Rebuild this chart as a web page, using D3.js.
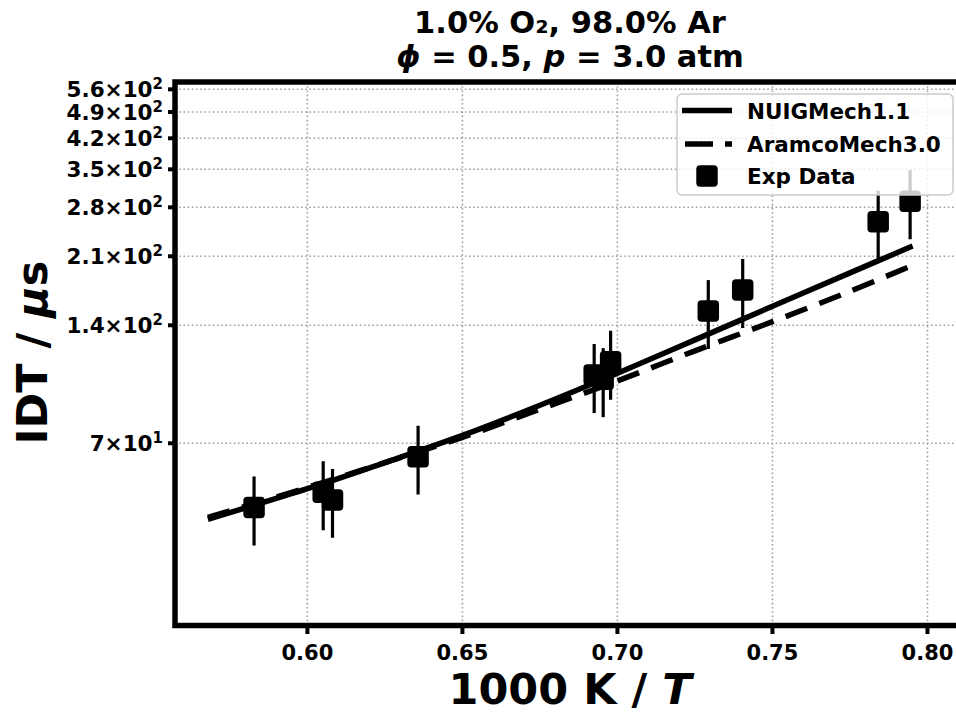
<!DOCTYPE html>
<html>
<head>
<meta charset="utf-8">
<script src="https://cdn.jsdelivr.net/npm/d3@7"></script>
<style>
  html, body { margin: 0; padding: 0; background: #fff; }
  svg { display: block; font-family: "DejaVu Sans", sans-serif; font-weight: bold; }
</style>
</head>
<body>
<div id="chart"></div>
<script>
// ---- data ----
const xTicks = [0.60, 0.65, 0.70, 0.75, 0.80];
const xTickLabels = ["0.60", "0.65", "0.70", "0.75", "0.80"];
const yTicks = [70, 140, 210, 280, 350, 420, 490, 560];
const yTickMant = ["7", "1.4", "2.1", "2.8", "3.5", "4.2", "4.9", "5.6"];
const yTickExp = ["1", "2", "2", "2", "2", "2", "2", "2"];

const nuigX = [0.5679, 0.60, 0.625, 0.65, 0.675, 0.70, 0.725, 0.75, 0.775, 0.7952];
const nuigY = [44.8, 53.6, 62.5, 73.3, 87.5, 105.6, 128.5, 156.5, 190.5, 223.0];
const aramX = [0.5679, 0.60, 0.625, 0.65, 0.675, 0.70, 0.725, 0.75, 0.775, 0.7944];
const aramY = [45.3, 54.0, 62.5, 72.5, 85.5, 101.0, 120.5, 143.0, 171.0, 198.0];

const expX = [0.5828, 0.6051, 0.6081, 0.6357, 0.6925, 0.6954, 0.6978, 0.7293, 0.7404, 0.7841, 0.7944];
const expY = [48.0, 52.5, 50.2, 64.7, 104.5, 102.0, 113.0, 152.2, 172.3, 257.3, 290.0];
const expErr = [9.6, 10.5, 10.0, 12.9, 20.9, 20.4, 22.6, 30.4, 34.5, 51.5, 58.0];

const seriesNames = ["NUIGMech1.1", "AramcoMech3.0", "Exp Data"];

// ---- layout ----
const W = 956, H = 714;
const L = 175, R = 965, T = 82, B = 625.5;

const svg = d3.select("#chart").append("svg").attr("width", W).attr("height", H);

const x = d3.scaleLinear().domain([0.5573, 0.8121]).range([L, R]);
const y = d3.scaleLog().domain([24.0, 584.6]).range([B, T]);

// grid
const grid = svg.append("g").attr("stroke", "#a0a0a0").attr("stroke-width", 1.6)
  .attr("stroke-dasharray", "1.6,2.6");
grid.selectAll("line.gx").data(xTicks).join("line")
  .attr("x1", d => x(d)).attr("x2", d => x(d)).attr("y1", T).attr("y2", B);
grid.selectAll("line.gy").data(yTicks).join("line")
  .attr("y1", d => y(d)).attr("y2", d => y(d)).attr("x1", L).attr("x2", R);

// clip
svg.append("clipPath").attr("id", "clip").append("rect")
  .attr("x", L).attr("y", T).attr("width", R - L).attr("height", B - T);
const plot = svg.append("g").attr("clip-path", "url(#clip)");

const lineGen = d3.line().x(d => x(d[0])).y(d => y(d[1])).curve(d3.curveCatmullRom.alpha(0.5));

plot.append("path").datum(nuigX.map((v, i) => [v, nuigY[i]]))
  .attr("d", lineGen).attr("fill", "none").attr("stroke", "#000").attr("stroke-width", 5.5);
plot.append("path").datum(aramX.map((v, i) => [v, aramY[i]]))
  .attr("d", lineGen).attr("fill", "none").attr("stroke", "#000").attr("stroke-width", 5.5)
  .attr("stroke-dasharray", "23,13");

// error bars
const exp = expX.map((v, i) => ({ x: v, y: expY[i], e: expErr[i] }));
plot.selectAll("line.err").data(exp).join("line")
  .attr("x1", d => x(d.x)).attr("x2", d => x(d.x))
  .attr("y1", d => y(d.y - d.e)).attr("y2", d => y(d.y + d.e))
  .attr("stroke", "#000").attr("stroke-width", 3.2);
// markers
const ms = 21.5;
plot.selectAll("rect.mk").data(exp).join("rect")
  .attr("x", d => x(d.x) - ms / 2).attr("y", d => y(d.y) - ms / 2)
  .attr("width", ms).attr("height", ms).attr("rx", 4).attr("fill", "#000");

// spines
svg.append("rect").attr("x", L).attr("y", T).attr("width", R - L).attr("height", B - T)
  .attr("fill", "none").attr("stroke", "#000").attr("stroke-width", 5.5);

// x ticks
const xt = svg.append("g");
xt.selectAll("line").data(xTicks).join("line")
  .attr("x1", d => x(d)).attr("x2", d => x(d)).attr("y1", B).attr("y2", B + 8.5)
  .attr("stroke", "#000").attr("stroke-width", 4);
xt.selectAll("text").data(xTicks).join("text")
  .attr("x", d => x(d)).attr("y", 660).attr("text-anchor", "middle")
  .attr("font-size", 21).text((d, i) => xTickLabels[i]);

// y ticks
const yt = svg.append("g");
yt.selectAll("line").data(yTicks).join("line")
  .attr("x1", L).attr("x2", L - 7).attr("y1", d => y(d)).attr("y2", d => y(d))
  .attr("stroke", "#000").attr("stroke-width", 4);
const ytxt = yt.selectAll("text").data(yTicks).join("text")
  .attr("x", 163).attr("y", d => y(d) + 8).attr("text-anchor", "end").attr("font-size", 21.5);
ytxt.append("tspan").text((d, i) => yTickMant[i] + "×10");
ytxt.append("tspan").attr("font-size", 15).attr("dy", -8.5).text((d, i) => yTickExp[i]);

// axis labels
const xl = svg.append("text").attr("x", 570).attr("y", 704).attr("text-anchor", "middle")
  .attr("font-size", 43);
xl.append("tspan").text("1000 K / ");
xl.append("tspan").attr("font-style", "italic").text("T");

const yl = svg.append("text").attr("transform", "translate(46.5,352.5) rotate(-90)")
  .attr("text-anchor", "middle").attr("font-size", 43);
yl.append("tspan").text("IDT / ");
yl.append("tspan").attr("font-style", "italic").text("μ");
yl.append("tspan").text("s");

// title
svg.append("text").attr("x", 570).attr("y", 33).attr("text-anchor", "middle")
  .attr("font-size", 30.5).text("1.0% O₂, 98.0% Ar");
const t2 = svg.append("text").attr("x", 570).attr("y", 67).attr("text-anchor", "middle")
  .attr("font-size", 30.5);
t2.append("tspan").attr("font-style", "italic").text("ϕ");
t2.append("tspan").text(" = 0.5, ");
t2.append("tspan").attr("font-style", "italic").text("p");
t2.append("tspan").text(" = 3.0 atm");

// legend
const lg = svg.append("g");
lg.append("rect").attr("x", 677).attr("y", 94).attr("width", 276).attr("height", 101)
  .attr("rx", 5).attr("fill", "#fff").attr("fill-opacity", 0.8)
  .attr("stroke", "#cccccc").attr("stroke-width", 1.5);
const rows = [110.5, 144, 176];
lg.append("line").attr("x1", 682).attr("x2", 732).attr("y1", rows[0]).attr("y2", rows[0])
  .attr("stroke", "#000").attr("stroke-width", 5.5);
lg.append("line").attr("x1", 685).attr("x2", 732).attr("y1", rows[1]).attr("y2", rows[1])
  .attr("stroke", "#000").attr("stroke-width", 5.5).attr("stroke-dasharray", "28,12");
lg.append("rect").attr("x", 707 - ms / 2).attr("y", rows[2] - ms / 2).attr("width", ms).attr("height", ms)
  .attr("rx", 4).attr("fill", "#000");
lg.selectAll("text").data(seriesNames).join("text")
  .attr("x", 747).attr("y", (d, i) => rows[i] + 8).attr("font-size", 21.5).text(d => d);
</script>
</body>
</html>
